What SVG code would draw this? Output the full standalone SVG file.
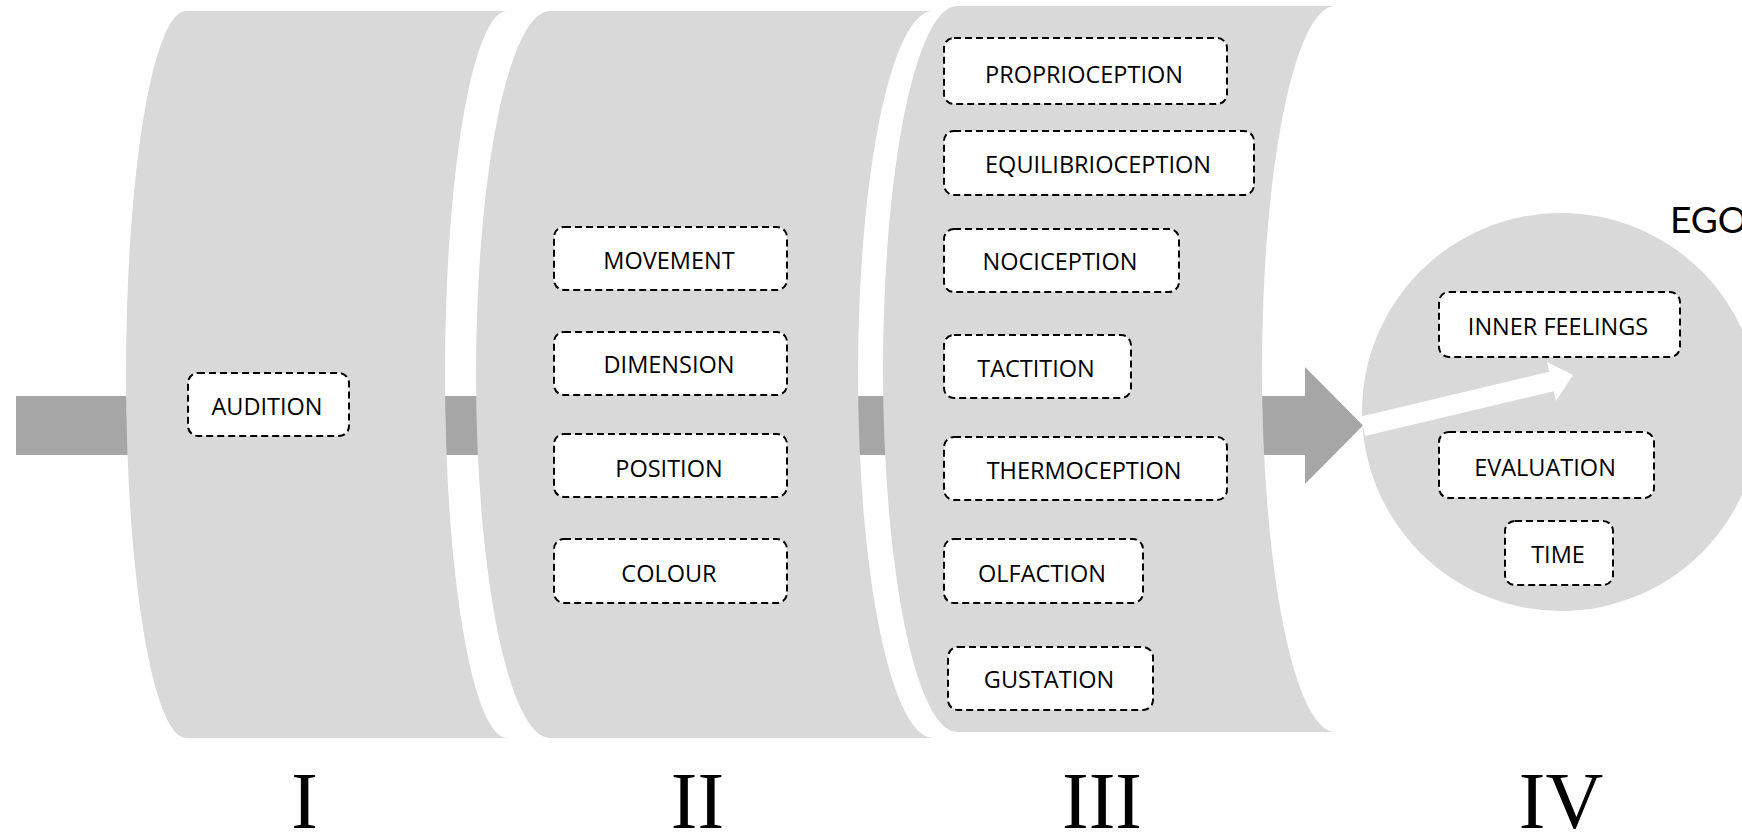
<svg xmlns="http://www.w3.org/2000/svg" width="1742" height="833" viewBox="0 0 1742 833">
  <style>
    .stage { fill: #d9d9d9; }
    .flow { fill: #a6a6a6; }
    .box { fill: #ffffff; stroke: #000000; stroke-width: 2; stroke-dasharray: 7 4; }
    .lbl { font-family: "Open Sans", "Noto Sans", "Liberation Sans", sans-serif; font-size: 23.5px; fill: #000000; text-anchor: middle; }
    .num { font-family: "Liberation Serif", "Times New Roman", serif; font-size: 80px; fill: #000000; text-anchor: middle; }
    .ego { font-family: Lato, "Liberation Sans", sans-serif; font-size: 37px; fill: #000000; }
  </style>

  <rect width="1742" height="833" fill="#ffffff"/>

  <!-- main flow arrow, running behind the stages -->
  <g id="connectors">
    <rect class="flow" x="16" y="396" width="1290" height="59"/>
    <polygon class="flow" points="1305,367 1363,425.5 1305,484"/>
  </g>

  <!-- stage slices: convex left edge, concave right edge -->
  <g id="stage-1">
    <path class="stage" d="M186,11 L507,11 A62,363.5 0 0 0 507,738 L186,738 A60,363.5 0 0 1 186,11 Z"/>
  </g>
  <g id="stage-2">
    <path class="stage" d="M550,11 L933,11 A75,363.5 0 0 0 933,738 L550,738 A74,363.5 0 0 1 550,11 Z"/>
  </g>
  <g id="stage-3">
    <path class="stage" d="M957,6 L1335,6 A73,363 0 0 0 1335,732 L957,732 A74,363 0 0 1 957,6 Z"/>
  </g>

  <!-- ego sphere with inner arrow -->
  <g id="ego">
    <circle class="stage" cx="1561" cy="412" r="199"/>
    <polygon fill="#ffffff" points="1361,416.5 1549.2,371.8 1547,362 1573,375 1556,401 1553.8,391.2 1365,436"/>
    <text class="ego" x="1670" y="233">EGO</text>
  </g>

  <!-- stage I -->
  <g id="audition">
    <rect class="box" x="188" y="373" width="161" height="63" rx="10"/>
    <text class="lbl" x="267" y="415">AUDITION</text>
  </g>

  <!-- stage II -->
  <g id="movement">
    <rect class="box" x="554" y="227" width="233" height="63" rx="10"/>
    <text class="lbl" x="669" y="269">MOVEMENT</text>
  </g>
  <g id="dimension">
    <rect class="box" x="554" y="332" width="233" height="63" rx="10"/>
    <text class="lbl" x="669" y="373">DIMENSION</text>
  </g>
  <g id="position">
    <rect class="box" x="554" y="434" width="233" height="63" rx="10"/>
    <text class="lbl" x="669" y="477">POSITION</text>
  </g>
  <g id="colour">
    <rect class="box" x="554" y="539" width="233" height="64" rx="10"/>
    <text class="lbl" x="669" y="582">COLOUR</text>
  </g>

  <!-- stage III -->
  <g id="proprioception">
    <rect class="box" x="944" y="38" width="283" height="66" rx="10"/>
    <text class="lbl" x="1084" y="83">PROPRIOCEPTION</text>
  </g>
  <g id="equilibrioception">
    <rect class="box" x="944" y="131" width="310" height="64" rx="10"/>
    <text class="lbl" x="1098" y="173">EQUILIBRIOCEPTION</text>
  </g>
  <g id="nociception">
    <rect class="box" x="944" y="229" width="235" height="63" rx="10"/>
    <text class="lbl" x="1060" y="270">NOCICEPTION</text>
  </g>
  <g id="tactition">
    <rect class="box" x="944" y="335" width="187" height="63" rx="10"/>
    <text class="lbl" x="1036" y="377">TACTITION</text>
  </g>
  <g id="thermoception">
    <rect class="box" x="944" y="437" width="283" height="63" rx="10"/>
    <text class="lbl" x="1084" y="479">THERMOCEPTION</text>
  </g>
  <g id="olfaction">
    <rect class="box" x="944" y="539" width="199" height="64" rx="10"/>
    <text class="lbl" x="1042" y="582">OLFACTION</text>
  </g>
  <g id="gustation">
    <rect class="box" x="948" y="647" width="205" height="63" rx="10"/>
    <text class="lbl" x="1049" y="688">GUSTATION</text>
  </g>

  <!-- stage IV -->
  <g id="inner-feelings">
    <rect class="box" x="1439" y="292" width="241" height="65" rx="10"/>
    <text class="lbl" x="1558" y="335">INNER FEELINGS</text>
  </g>
  <g id="evaluation">
    <rect class="box" x="1439" y="432" width="215" height="66" rx="10"/>
    <text class="lbl" x="1545" y="476">EVALUATION</text>
  </g>
  <g id="time">
    <rect class="box" x="1505" y="521" width="108" height="64" rx="10"/>
    <text class="lbl" x="1558" y="563">TIME</text>
  </g>

  <!-- stage numerals -->
  <g id="numerals">
    <text class="num" x="304.5" y="828">I</text>
    <text class="num" x="697.5" y="828">II</text>
    <text class="num" x="1102" y="828">III</text>
    <text class="num" x="1561" y="828">IV</text>
  </g>
</svg>
